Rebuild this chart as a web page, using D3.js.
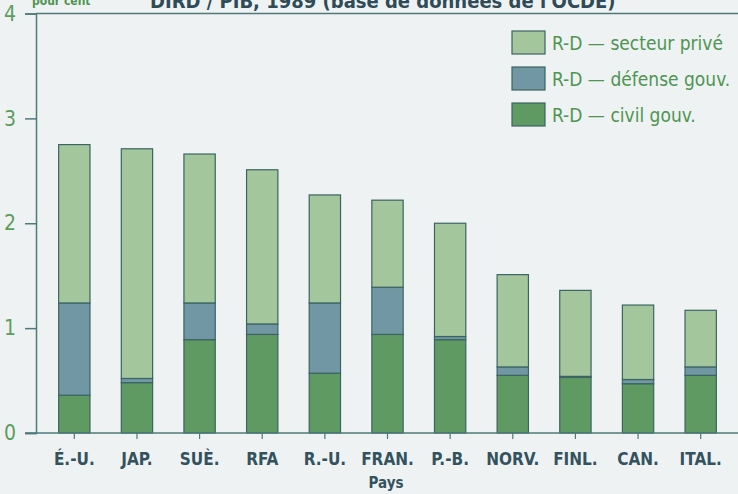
<!DOCTYPE html>
<html>
<head>
<meta charset="utf-8">
<script src="https://cdn.jsdelivr.net/npm/d3@7"></script>
<style>
  body { margin: 0; background: #eef2f3; }
  svg { display: block; font-family: "DejaVu Sans Condensed", "DejaVu Sans", sans-serif; font-stretch: condensed; }
</style>
</head>
<body>
<script>
// DIRD / PIB par pays, 1989
var countries = ["É.-U.", "JAP.", "SUÈ.", "RFA", "R.-U.", "FRAN.", "P.-B.", "NORV.", "FINL.", "CAN.", "ITAL."];
var civil   = [0.36, 0.48, 0.89, 0.94, 0.57, 0.94, 0.89, 0.55, 0.53, 0.47, 0.55];
var defense = [0.88, 0.04, 0.35, 0.10, 0.67, 0.45, 0.03, 0.08, 0.01, 0.04, 0.08];
var prive   = [1.51, 2.19, 1.42, 1.47, 1.03, 0.83, 1.08, 0.88, 0.82, 0.71, 0.54];
var yTicks = [0, 1, 2, 3, 4];
var seriesKeys = ["civil", "defense", "prive"];
var legendLabels = ["R-D — secteur privé", "R-D — défense gouv.", "R-D — civil gouv."];

var width = 738, height = 494;
var colors = { civil: "#5f9a63", defense: "#7097a3", prive: "#a4c69d" };
var axisColor = "#4f7a7a";
var fontC = "'DejaVu Sans Condensed', 'DejaVu Sans', sans-serif";

var data = countries.map(function(c, i) {
  return { pays: c, civil: civil[i], defense: defense[i], prive: prive[i] };
});

var svg = d3.select("body").append("svg")
  .attr("width", width)
  .attr("height", height);

var x = d3.scaleBand()
  .domain(countries)
  .range([43, 732])
  .paddingInner(0.5)
  .paddingOuter(0.25);

var y = d3.scaleLinear()
  .domain([0, 4])
  .range([433, 13.5]);

// title, cut by the top edge as in the scan
svg.append("text")
  .attr("x", 32).attr("y", 5)
  .attr("fill", "#4f9552")
  .attr("font-weight", "bold")
  .attr("font-size", 12)
  .text("pour cent");

svg.append("text")
  .attr("x", 150).attr("y", 8)
  .attr("fill", "#2f4b57")
  .attr("font-weight", "bold")
  .attr("font-size", 20)
  .text("DIRD / PIB, 1989 (base de données de l'OCDE)");

// frame top line
svg.append("line")
  .attr("x1", 36).attr("x2", width)
  .attr("y1", y(4)).attr("y2", y(4))
  .attr("stroke", axisColor).attr("stroke-width", 1.5);

var stack = d3.stack().keys(seriesKeys);
var layers = stack(data);

svg.append("g").selectAll("g")
  .data(layers)
  .enter().append("g")
  .attr("fill", function(d) { return colors[d.key]; })
  .selectAll("rect")
  .data(function(d) { return d; })
  .enter().append("rect")
  .attr("x", function(d) { return x(d.data.pays); })
  .attr("width", x.bandwidth())
  .attr("y", function(d) { return y(d[1]); })
  .attr("height", function(d) { return y(d[0]) - y(d[1]); })
  .attr("stroke", "#3b6462")
  .attr("stroke-width", 1.2);

// y axis
var yAxis = svg.append("g")
  .attr("transform", "translate(36,0)")
  .call(d3.axisLeft(y).tickValues(yTicks).tickSize(11).tickPadding(9).tickFormat(d3.format("d")));
yAxis.select(".domain").attr("stroke", axisColor).attr("stroke-width", 1.5);
yAxis.selectAll(".tick line").attr("stroke", axisColor).attr("stroke-width", 1.5);
yAxis.selectAll("text")
  .attr("fill", "#5a9e5c")
  .attr("font-size", 21)
  .attr("font-family", fontC);

// x axis
var xAxis = svg.append("g")
  .attr("transform", "translate(0," + y(0) + ")")
  .call(d3.axisBottom(x).tickSize(6).tickPadding(14).tickSizeOuter(0));
xAxis.select(".domain")
  .attr("d", "M25,0H" + width)
  .attr("stroke", axisColor).attr("stroke-width", 1.5);
xAxis.selectAll(".tick line").attr("stroke", axisColor).attr("stroke-width", 1.2);
xAxis.selectAll("text")
  .attr("fill", "#34525e")
  .attr("font-weight", "bold")
  .attr("font-size", 17)
  .attr("font-family", fontC);

svg.append("text")
  .attr("x", 386).attr("y", 488)
  .attr("text-anchor", "middle")
  .attr("fill", "#34525e")
  .attr("font-weight", "bold")
  .attr("font-size", 15)
  .text("Pays");

// legend
var legendKeys = ["prive", "defense", "civil"];
var legend = svg.append("g").selectAll("g")
  .data(legendKeys)
  .enter().append("g")
  .attr("transform", function(d, i) { return "translate(512," + (31 + i * 36) + ")"; });

legend.append("rect")
  .attr("width", 33).attr("height", 23)
  .attr("fill", function(d) { return colors[d]; })
  .attr("stroke", "#3b6462").attr("stroke-width", 1.2);

legend.append("text")
  .attr("x", 40).attr("y", 19)
  .attr("fill", "#4f9552")
  .attr("font-size", 19)
  .text(function(d, i) { return legendLabels[i]; });
</script>
</body>
</html>
